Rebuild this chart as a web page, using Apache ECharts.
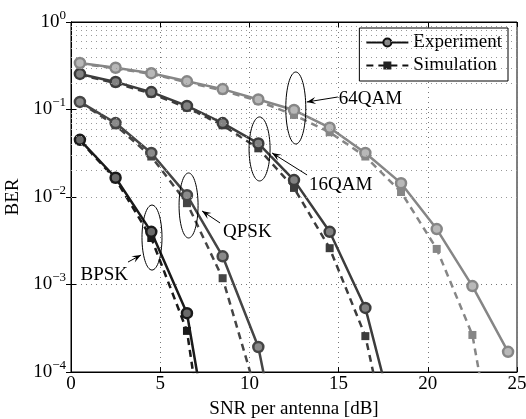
<!DOCTYPE html>
<html>
<head>
<meta charset="utf-8">
<script src="https://cdn.jsdelivr.net/npm/echarts@6/dist/echarts.min.js"></script>
<style>
  html, body { margin: 0; padding: 0; background: #fff; }
  #chart { width: 526px; height: 419px; }
</style>
</head>
<body>
<div id="chart"></div>
<script>
// SNR points (dB) where markers sit
const snr = [0.5, 2.5, 4.5, 6.5, 8.5, 10.5, 12.5, 14.5, 16.5, 18.5, 20.5, 22.5, 24.5]

// BER (last value of each run falls below 1e-4 and is clipped)
const bpskExp = [0.045, 0.0166, 0.0040, 4.7e-4, 1.9e-6]
const bpskSim = [0.044, 0.0160, 0.0034, 2.95e-4, 5e-7]
const qpskExp = [0.122, 0.070, 0.0318, 0.0105, 0.0021, 1.93e-4, 1.8e-6]
const qpskSim = [0.120, 0.066, 0.0290, 0.0085, 0.00118, 4.8e-5]
const qam16Exp = [0.255, 0.206, 0.158, 0.110, 0.070, 0.041, 0.0156, 0.0040, 5.4e-4, 1.4e-5]
const qam16Sim = [0.250, 0.200, 0.152, 0.105, 0.066, 0.036, 0.0127, 0.0026, 2.57e-4, 3.4e-6]
const qam64Exp = [0.34, 0.30, 0.26, 0.21, 0.171, 0.130, 0.0986, 0.062, 0.0318, 0.0144, 0.0043, 9.6e-4, 1.7e-4]
const qam64Sim = [0.335, 0.295, 0.255, 0.205, 0.165, 0.125, 0.0865, 0.055, 0.029, 0.0114, 0.00255, 2.65e-4, 1.4e-6]

const minorGrid = []
;[1e-4, 1e-3, 1e-2, 1e-1].forEach(d => {
  for (let k = 2; k <= 9; k++) minorGrid.push(+(d * k).toPrecision(3))
})

// ellipse + arrow annotations, anchored in data coords
const notes = [
  { text: '64QAM', x: 12.6, y: 0.104, rx: 10, ry: 36, head: [11, -6], tail: [42, -11], label: [43, -9], align: 'left' },
  { text: '16QAM', x: 10.57, y: 0.0354, rx: 10.5, ry: 32, head: [12.5, 4], tail: [47.5, 26], label: [49.5, 36], align: 'left' },
  { text: 'QPSK', x: 6.59, y: 0.008, rx: 9.5, ry: 32.5, head: [13.5, 5.5], tail: [31.5, 17.5], label: [34.5, 26.5], align: 'left' },
  { text: 'BPSK', x: 4.54, y: 0.00344, rx: 10, ry: 32.5, head: [-11, 17.5], tail: [-24, 24.5], label: [-24, 37], align: 'right' }
]

const FONT = '"Liberation Serif", "DejaVu Serif", serif'
const FS = 19

const makeSeries = (name, values, color, fill, sim) => ({
  name: name,
  type: 'line',
  data: values.map((v, i) => [snr[i], v]),
  symbol: sim ? 'rect' : 'circle',
  symbolSize: sim ? 8 : 10,
  clip: true,
  lineStyle: { color: color, width: 2.5, type: sim ? [7, 5] : 'solid' },
  itemStyle: { color: fill, borderColor: color, borderWidth: sim ? 0 : 2.5 },
  z: sim ? 3 : 4,
  silent: true
})

const chart = echarts.init(document.getElementById('chart'))

const supLabel = v => {
  const e = Math.round(Math.log10(v))
  return '{b|10}{s|' + (e === 0 ? '0' : '\u2212' + (-e)) + '}'
}

const gridDots = { color: '#777', type: [1, 4], width: 1 }

const option = {
  animation: false,
  textStyle: { fontFamily: FONT },
  grid: {
    left: 71, right: 9, top: 22, bottom: 47,
    outerBoundsMode: 'none', containLabel: false,
    show: true, borderColor: '#000', borderWidth: 1
  },
  legend: {
    data: [
      { name: 'Experiment', itemStyle: { color: '#888', borderColor: '#111' }, lineStyle: { color: '#111' } },
      { name: 'Simulation', itemStyle: { color: '#222' }, lineStyle: { color: '#111' } }
    ],
    orient: 'vertical',
    right: 18,
    top: 28,
    backgroundColor: '#fff',
    borderColor: '#000',
    borderWidth: 1,
    borderRadius: 0,
    padding: [5, 6, 6, 6],
    itemGap: 4,
    itemWidth: 42,
    itemHeight: 10,
    selectedMode: false,
    textStyle: { fontFamily: FONT, fontSize: FS, color: '#000' }
  },
  xAxis: [
    {
      type: 'value', min: 0, max: 25, interval: 5,
      name: 'SNR per antenna [dB]', nameLocation: 'middle', nameGap: 28,
      nameTextStyle: { fontFamily: FONT, fontSize: FS, color: '#000' },
      axisLine: { lineStyle: { color: '#000', width: 1 } },
      axisTick: { inside: true, length: 5, lineStyle: { color: '#000' } },
      axisLabel: { fontFamily: FONT, fontSize: FS, color: '#000', margin: 3 },
      splitLine: { show: true, lineStyle: gridDots }
    },
    {
      type: 'value', min: 0, max: 25, interval: 5, position: 'top',
      axisLine: { lineStyle: { color: '#000' } },
      axisTick: { inside: true, length: 5, lineStyle: { color: '#000' } },
      axisLabel: { show: false }, splitLine: { show: false }
    }
  ],
  yAxis: [
    {
      type: 'log', min: 1e-4, max: 1, logBase: 10,
      name: 'BER', nameLocation: 'middle', nameGap: 47, nameRotate: 90,
      nameTextStyle: { fontFamily: FONT, fontSize: FS, color: '#000' },
      axisLine: { lineStyle: { color: '#000', width: 1 } },
      axisTick: { inside: true, length: 5, lineStyle: { color: '#000' } },
      axisLabel: {
        margin: 5,
        formatter: supLabel,
        rich: {
          b: { fontFamily: FONT, fontSize: FS, color: '#000' },
          s: { fontFamily: FONT, fontSize: 13, color: '#000', padding: [0, 0, 13, 0] }
        }
      },
      splitLine: { show: true, lineStyle: gridDots }
    },
    {
      type: 'log', min: 1e-4, max: 1, logBase: 10, position: 'right',
      axisLine: { lineStyle: { color: '#000' } },
      axisTick: { inside: true, length: 5, lineStyle: { color: '#000' } },
      axisLabel: { show: false }, splitLine: { show: false }
    }
  ],
  series: [
    {
      name: 'minor', type: 'line', data: [], silent: true, z: 1,
      markLine: {
        silent: true, symbol: 'none', label: { show: false },
        lineStyle: { color: '#999', type: [1, 4], width: 1 },
        data: minorGrid.map(v => ({ yAxis: v }))
      }
    },
    makeSeries('Experiment', bpskExp, '#1a1a1a', '#6a6a6a', false),
    makeSeries('Simulation', bpskSim, '#1a1a1a', '#1a1a1a', true),
    makeSeries('Experiment', qpskExp, '#454545', '#8a8a8a', false),
    makeSeries('Simulation', qpskSim, '#454545', '#454545', true),
    makeSeries('Experiment', qam16Exp, '#3c3c3c', '#828282', false),
    makeSeries('Simulation', qam16Sim, '#3c3c3c', '#3c3c3c', true),
    makeSeries('Experiment', qam64Exp, '#868686', '#b8b8b8', false),
    makeSeries('Simulation', qam64Sim, '#868686', '#868686', true)
  ]
}

chart.setOption(option)

// annotations: ellipses, arrows and labels
const graphics = []
notes.forEach(n => {
  const [cx, cy] = chart.convertToPixel({ gridIndex: 0 }, [n.x, n.y])
  graphics.push({
    type: 'ellipse', z: 50, silent: true,
    shape: { cx: cx, cy: cy, rx: n.rx, ry: n.ry },
    style: { fill: 'none', stroke: '#000', lineWidth: 1 }
  })
  const hx = cx + n.head[0], hy = cy + n.head[1]
  const tx = cx + n.tail[0], ty = cy + n.tail[1]
  graphics.push({
    type: 'line', z: 50, silent: true,
    shape: { x1: tx, y1: ty, x2: hx, y2: hy },
    style: { stroke: '#000', lineWidth: 1 }
  })
  const ang = Math.atan2(hy - ty, hx - tx)
  const L = 9, W = 3.5
  const ux = Math.cos(ang), uy = Math.sin(ang)
  const bx = hx - L * ux, by = hy - L * uy
  const mx = hx - 0.6 * L * ux, my = hy - 0.6 * L * uy
  graphics.push({
    type: 'polygon', z: 50, silent: true,
    shape: { points: [[hx, hy], [bx - uy * W, by + ux * W], [mx, my], [bx + uy * W, by - ux * W]] },
    style: { fill: '#000' }
  })
  graphics.push({
    type: 'text', z: 50, silent: true,
    x: cx + n.label[0], y: cy + n.label[1],
    style: {
      text: n.text, font: FS + 'px ' + FONT, fill: '#000',
      align: n.align, verticalAlign: 'middle'
    }
  })
})
chart.setOption({ graphic: graphics })
</script>
</body>
</html>
